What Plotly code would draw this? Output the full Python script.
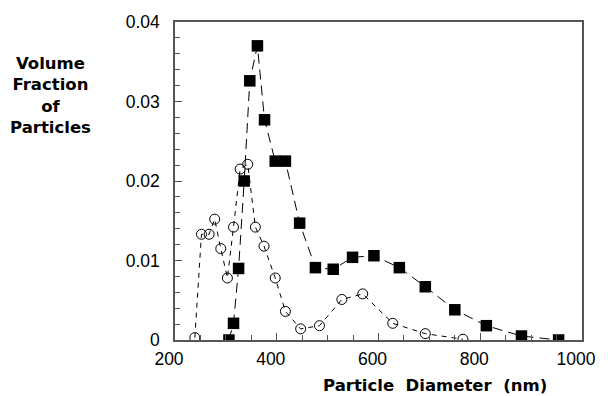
import plotly.graph_objects as go

# Particle size distributions (volume fraction vs. diameter)
diam_filled = [306, 315, 325, 336, 347, 362, 376, 397, 417, 445, 476, 511,
               549, 591, 641, 692, 750, 812, 881, 954]
vol_filled = [0.0000, 0.0021, 0.0090, 0.0200, 0.0326, 0.0370, 0.0277, 0.0225,
              0.0225, 0.0147, 0.0091, 0.0089, 0.0104, 0.0106, 0.0091, 0.0067,
              0.0038, 0.0018, 0.0005, 0.0000]

diam_open = [239, 252, 267, 278, 290, 303, 315, 328, 343, 358, 375, 397, 417,
             447, 484, 528, 569, 628, 692, 766]
vol_open = [0.0003, 0.0133, 0.0133, 0.0152, 0.0115, 0.0078, 0.0142, 0.0215,
            0.0221, 0.0142, 0.0118, 0.0078, 0.0036, 0.0014, 0.0018, 0.0051,
            0.0058, 0.0021, 0.0008, 0.0001]

x_ticks = [200, 400, 600, 800, 1000]
y_ticks = [0, 0.01, 0.02, 0.03, 0.04]
y_tick_text = ["0", "0.01", "0.02", "0.03", "0.04"]

fig = go.Figure()

fig.add_trace(go.Scatter(
    x=diam_open, y=vol_open, mode="lines+markers",
    line=dict(color="black", width=1, dash="5px,5px"),
    marker=dict(symbol="circle-open", size=10, color="black",
                line=dict(width=1, color="black")),
    showlegend=False,
))

fig.add_trace(go.Scatter(
    x=diam_filled, y=vol_filled, mode="lines+markers",
    line=dict(color="black", width=1, dash="10px,6px"),
    marker=dict(symbol="square", size=11.5, color="black"),
    showlegend=False,
))

axis_common = dict(
    showline=True, linecolor="#555555", linewidth=1.5, mirror=True,
    showgrid=False, zeroline=False, ticks="inside", tickcolor="#555555",
    ticklen=7, tickwidth=1,
    tickfont=dict(family="Liberation Sans, Arial", size=17.5, color="black"),
)

fig.update_xaxes(
    range=[200, 1000], tickvals=x_ticks, ticklabelshift=-6,
    ticklabelstandoff=2,
    minor=dict(ticks="inside", dtick=50, ticklen=5, tickcolor="#555555"),
    **axis_common,
)
fig.update_yaxes(
    range=[0, 0.04], tickvals=y_ticks, ticktext=y_tick_text,
    ticklabelstandoff=10,
    minor=dict(ticks="inside", dtick=0.002, ticklen=5, tickcolor="#555555"),
    **axis_common,
)

title_font = dict(family="DejaVu Sans", size=16.5, color="black")

fig.add_annotation(
    text="<b>Particle  Diameter  (nm)</b>", xref="paper", yref="paper",
    x=(438 - 175) / 411, y=-46 / 320, xanchor="center", yanchor="middle",
    showarrow=False, font=title_font,
)
fig.add_annotation(
    text="<b>Volume<br>Fraction<br>of<br>Particles</b>",
    xref="paper", yref="paper",
    x=(49 - 175) / 411, y=(340 - 94) / 320, xanchor="center", yanchor="middle",
    align="center", showarrow=False, font=title_font,
)

fig.update_layout(
    width=608, height=396,
    margin=dict(l=175, r=22, t=20, b=56),
    paper_bgcolor="white", plot_bgcolor="white",
)

fig.write_html("out.html")
